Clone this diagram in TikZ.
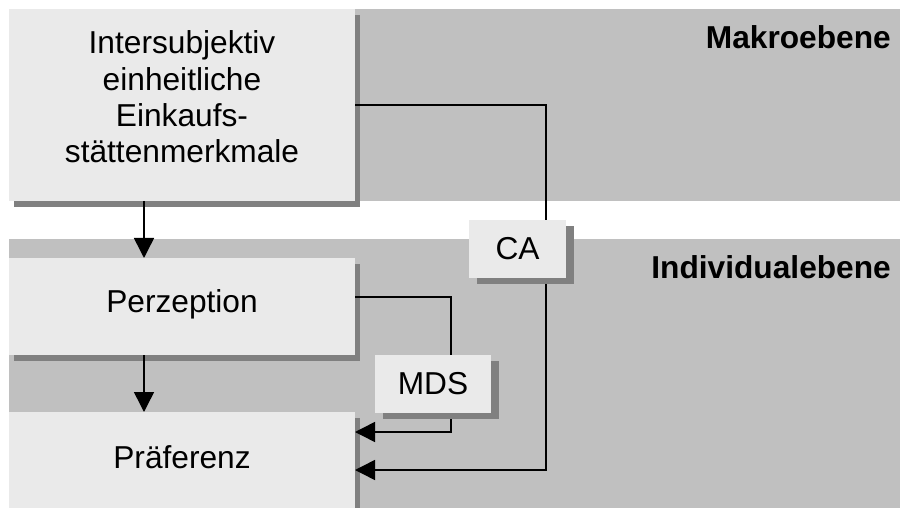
\documentclass[tikz,border=0pt]{standalone}
\usepackage{fontspec}
\setmainfont{Liberation Sans}
\usetikzlibrary{arrows.meta,shadows}
\definecolor{bandgray}{HTML}{C0C0C0}
\definecolor{boxgray}{HTML}{EAEAEA}
\definecolor{shadowgray}{HTML}{808080}
\begin{document}
\begin{tikzpicture}[x=1bp,y=-1bp,
  txt/.style={font=\fontsize{31.8pt}{36.5pt}\selectfont, inner sep=0pt, align=center},
  band/.style={fill=bandgray},
  box/.style={fill=boxgray, inner sep=0pt, anchor=north west},
  bigshadow/.style={general shadow={fill=shadowgray, shadow xshift=5bp, shadow yshift=-6bp}},
  smallshadow/.style={general shadow={fill=shadowgray, shadow xshift=8bp, shadow yshift=-6bp}},
  link/.style={line width=1.5bp},
  flow/.style={link, -{Triangle[length=20bp,width=20bp]}},
  level/.style={font=\fontsize{31.8pt}{36.5pt}\selectfont\bfseries, anchor=base east, inner sep=0pt}
]
\useasboundingbox (0,0) rectangle (900,508);
\clip (0,0) rectangle (900,508);

% the two levels
\fill[band] (9,9) rectangle (900,201);
\fill[band] (9,239) rectangle (900,508);
\node[level] (makro) at (891,49) {Makroebene};
\node[level] (indiv) at (891,279) {Individualebene};

% main boxes
\node[box,bigshadow,minimum width=346bp,minimum height=192bp] (merk) at (9,9) {};
\node[txt] (merktext) at (182,97) {Intersubjektiv\\einheitliche\\Einkaufs-\\stättenmerkmale};
\node[box,bigshadow,minimum width=346bp,minimum height=97bp] (perz) at (9,258) {};
\node[txt] (perztext) at (182,304) {Perzeption};
\node[box,bigshadow,minimum width=346bp,minimum height=110bp] (pref) at (9,412) {};
\node[txt] (preftext) at (182,457) {Präferenz};

% connector end points
\coordinate (merkout) at (144,201);
\coordinate (perzin) at (144,258);
\coordinate (perzout) at (144,355);
\coordinate (prefin) at (144,412);
\coordinate (caout) at (355,105);
\coordinate (mdsout) at (355,297);
\coordinate (mdsin) at (355,432);
\coordinate (cain) at (355,470);

\draw[flow] (merkout) -- (perzin);
\draw[flow] (perzout) -- (prefin);
\draw[flow] (caout) -- (546,105) -- (546,470) -- (cain);
\draw[flow] (mdsout) -- (451,297) -- (451,432) -- (mdsin);

% method boxes
\node[box,smallshadow,minimum width=97bp,minimum height=58bp] (ca) at (469,220) {};
\node[txt] (catext) at (517.5,249) {CA};
\node[box,smallshadow,minimum width=116bp,minimum height=58bp] (mds) at (375,355) {};
\node[txt] (mdstext) at (433,384) {MDS};
\end{tikzpicture}
\end{document}
